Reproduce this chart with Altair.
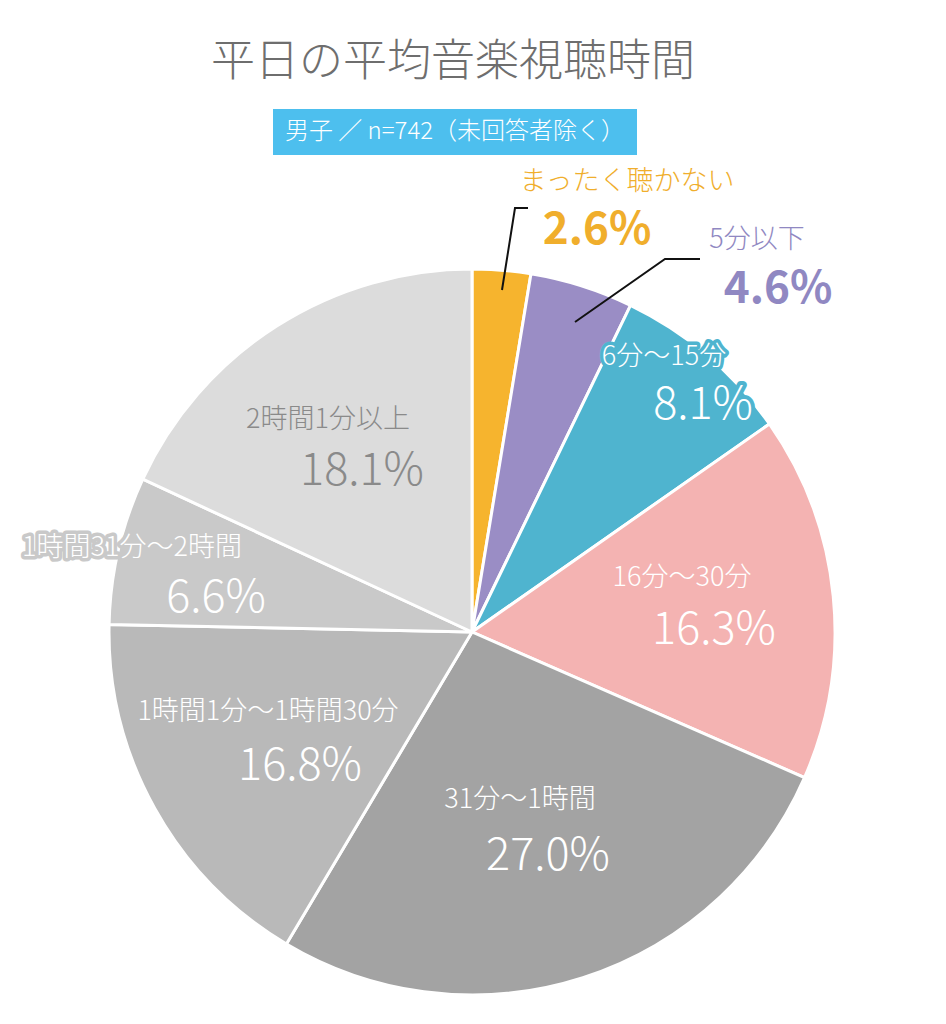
import altair as alt
import pandas as pd

# ---- data ----
categories = ["まったく聴かない", "5分以下", "6分〜15分", "16分〜30分", "31分〜1時間",
              "1時間1分〜1時間30分", "1時間31分〜2時間", "2時間1分以上"]
values = [2.6, 4.6, 8.1, 16.3, 27.0, 16.8, 6.6, 18.1]
pct_labels = ["2.6%", "4.6%", "8.1%", "16.3%", "27.0%", "16.8%", "6.6%", "18.1%"]

title_text = "平日の平均音楽視聴時間"
subtitle_text = "男子 ／ n=742（未回答者除く）"

# ---- styles / layout ----
slice_colors = ["#F6B42E", "#9A8DC5", "#4FB4CF", "#F4B3B2", "#A3A3A3", "#B9B9B9", "#C9C9C9", "#DCDCDC"]
text_colors = ["#F0AE2C", "#9088C2", "white", "white", "white", "white", "white", "#8A8A8A"]
halo_colors = ["none", "none", "#4FB4CF", "#F4B3B2", "#A3A3A3", "#B9B9B9", "#C9C9C9", "#DCDCDC"]
pct_weight = ["bold", "bold", "normal", "normal", "normal", "normal", "normal", "normal"]
OFF = 8  # page margin
cat_pos = [(627, 182), (757, 240), (664, 357), (682, 578), (520, 800), (268, 712), (132, 548), (328, 420)]
pct_pos = [(597, 231), (778, 290), (703, 405), (714, 630), (548, 856), (300, 766), (216, 598), (362, 471)]
leaders = [[(502, 290), (515, 208), (528, 208)], [(575, 322), (665, 259), (700, 259)]]
CX, CY, R = 472 - OFF, 632 - OFF, 363
FONT = "Noto Sans CJK JP"
LIGHT = 300

df = pd.DataFrame({"cat": categories, "value": values, "idx": list(range(len(values)))})

pie = alt.Chart(df).mark_arc(outerRadius=R, stroke="white", strokeWidth=3).encode(
    theta=alt.Theta("value:Q", stack=True),
    color=alt.Color("cat:N", scale=alt.Scale(domain=categories, range=slice_colors), legend=None),
    order=alt.Order("idx:Q"),
    x=alt.value(CX), y=alt.value(CY),
)

lab = pd.DataFrame({
    "cat": categories, "pct": pct_labels,
    "cx": [p[0] - OFF for p in cat_pos], "cy": [p[1] - OFF for p in cat_pos],
    "px": [p[0] - OFF for p in pct_pos], "py": [p[1] - OFF for p in pct_pos],
    "tc": text_colors, "hc": halo_colors, "w": pct_weight,
})

CAT_FS = 27
cat_halo = alt.Chart(lab).transform_filter("datum.hc != 'none'").mark_text(
    font=FONT, fontSize=CAT_FS, fontWeight=LIGHT, strokeWidth=7, strokeJoin="round").encode(
    x=alt.X("cx:Q", scale=None), y=alt.Y("cy:Q", scale=None), text="cat:N",
    stroke=alt.Stroke("hc:N", scale=None), fill=alt.Fill("hc:N", scale=None))
cat_text = alt.Chart(lab).mark_text(font=FONT, fontSize=CAT_FS, fontWeight=LIGHT).encode(
    x=alt.X("cx:Q", scale=None), y=alt.Y("cy:Q", scale=None), text="cat:N",
    fill=alt.Fill("tc:N", scale=None))

pct_halo = alt.Chart(lab).transform_filter("datum.hc != 'none'").mark_text(
    font=FONT, fontSize=45, fontWeight=LIGHT, strokeWidth=8, strokeJoin="round").encode(
    x=alt.X("px:Q", scale=None), y=alt.Y("py:Q", scale=None), text="pct:N",
    stroke=alt.Stroke("hc:N", scale=None), fill=alt.Fill("hc:N", scale=None))
pct_text_n = alt.Chart(lab).transform_filter("datum.w == 'normal'").mark_text(font=FONT, fontSize=45, fontWeight=LIGHT).encode(
    x=alt.X("px:Q", scale=None), y=alt.Y("py:Q", scale=None), text="pct:N",
    fill=alt.Fill("tc:N", scale=None))
pct_text_b = alt.Chart(lab).transform_filter("datum.w == 'bold'").mark_text(font=FONT, fontSize=44, fontWeight="bold").encode(
    x=alt.X("px:Q", scale=None), y=alt.Y("py:Q", scale=None), text="pct:N",
    fill=alt.Fill("tc:N", scale=None))

lrows = []
for i, pts in enumerate(leaders):
    for j, (x, y) in enumerate(pts):
        lrows.append({"g": i, "o": j, "x": x - OFF, "y": y - OFF})
lines = alt.Chart(pd.DataFrame(lrows)).mark_line(color="#111111", strokeWidth=2).encode(
    x=alt.X("x:Q", scale=None), y=alt.Y("y:Q", scale=None), detail="g:N", order="o:Q")

title = alt.Chart(pd.DataFrame({"t": [title_text]})).mark_text(
    font=FONT, fontSize=44, fontWeight=LIGHT, color="#6E6E6E").encode(
    x=alt.value(453 - OFF), y=alt.value(63 - OFF), text="t:N")

box = alt.Chart(pd.DataFrame({"a": [0]})).mark_rect(color="#4DBFEE").encode(
    x=alt.value(273 - OFF), x2=alt.value(637 - OFF), y=alt.value(109 - OFF), y2=alt.value(155 - OFF))
sub = alt.Chart(pd.DataFrame({"t": [subtitle_text]})).mark_text(
    font=FONT, fontSize=24, fontWeight=LIGHT, color="white").encode(
    x=alt.value(455 - OFF), y=alt.value(132 - OFF), text="t:N")

chart = alt.layer(pie, lines, cat_halo, cat_text, pct_halo, pct_text_n, pct_text_b, title, box, sub).properties(
    width=930, height=1008, autosize=alt.AutoSizeParams(type="none"), padding=0
).configure_view(stroke=None)

chart.save("out.html", embed_options={"renderer": "svg", "actions": False})
